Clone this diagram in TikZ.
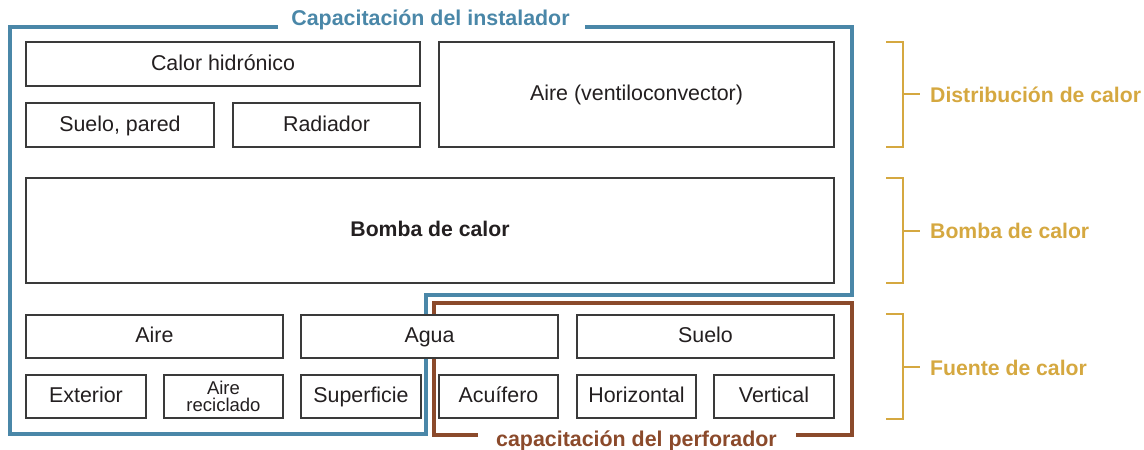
\documentclass[tikz,border=0pt]{standalone}
\usepackage{fontspec}
\setmainfont{Liberation Sans}
\definecolor{frameblue}{HTML}{4A87A8}
\definecolor{framebrown}{HTML}{8B4A2B}
\definecolor{gold}{HTML}{D5A840}
\definecolor{boxgray}{HTML}{3A3A3A}
\definecolor{txt}{HTML}{231F20}
\begin{document}
\begin{tikzpicture}[x=1pt,y=-1pt,
  box/.style={draw=boxgray, line width=1.3pt, fill=white, inner sep=0pt, text=txt,
    font=\fontsize{21.4}{23}\selectfont, minimum height=44pt, text height=15.4pt, text depth=3.1pt},
  bluef/.style={draw=frameblue, line width=3.8pt},
  brownf/.style={draw=framebrown, line width=3.8pt},
  bracket/.style={draw=gold, line width=1.4pt},
  glabel/.style={text=gold, font=\fontsize{21.2}{23}\bfseries\selectfont, anchor=west, inner sep=0pt}]
\useasboundingbox (0,0) rectangle (1144,450);
% frames
\draw[bluef, line join=miter] (278,27) -- (10,27) -- (10,434) -- (426,434) -- (426,295) -- (852,295) -- (852,27) -- (585,27);
\node[text=frameblue, font=\fontsize{21.4}{23}\bfseries\selectfont, inner sep=0pt] (tinst) at (430.5,20) {Capacitación del instalador};
\draw[brownf, line join=miter] (478,435) -- (434,435) -- (434,303) -- (852,303) -- (852,435) -- (796,435);
\node[text=framebrown, font=\fontsize{21.4}{23}\bfseries\selectfont, inner sep=0pt] (tperf) at (636.5,441) {capacitación del perforador};
% boxes
\node[box, minimum width=394pt] (hid) at (223,64) {Calor hidrónico};
\node[box, minimum width=188pt] (suelop) at (120,125) {Suelo, pared};
\node[box, minimum width=187pt] (rad) at (326.5,125) {Radiador};
\node[box, minimum width=395pt, minimum height=105pt] (aire) at (636.5,94.5) {Aire (ventiloconvector)};
\node[box, minimum width=808pt, minimum height=105pt, font=\fontsize{21.2}{23}\bfseries\selectfont] (bomba) at (430,230.5) {Bomba de calor};
\node[box, minimum width=257pt, minimum height=43pt] (faire) at (154.5,336.5) {Aire};
\node[box, minimum width=257pt, minimum height=43pt] (fagua) at (429.5,336.5) {Agua};
\node[box, minimum width=257pt, minimum height=43pt] (fsuelo) at (705.5,336.5) {Suelo};
\node[box, minimum width=120pt, minimum height=43pt] (ext) at (86,396.5) {Exterior};
\node[box, minimum width=119pt, minimum height=43pt, align=center, text height=, text depth=, font=\fontsize{18.5}{17.5}\selectfont] (rec) at (223.5,396.5) {Aire\\reciclado};
\node[box, minimum width=120pt, minimum height=43pt] (sup) at (361,396.5) {Superficie};
\node[box, minimum width=119pt, minimum height=43pt] (acu) at (498.5,396.5) {Acuífero};
\node[box, minimum width=119pt, minimum height=43pt] (hor) at (636.5,396.5) {Horizontal};
\node[box, minimum width=120pt, minimum height=43pt] (ver) at (774,396.5) {Vertical};
% brackets
\draw[bracket] (886,42) -- (903,42) -- (903,147) -- (886,147);
\draw[bracket] (903,94) -- (920,94);
\node[glabel] (ldist) at (930,95) {Distribución de calor};
\draw[bracket] (886,178) -- (903,178) -- (903,283) -- (886,283);
\draw[bracket] (903,231) -- (920,231);
\node[glabel] (lbomba) at (930,231) {Bomba de calor};
\draw[bracket] (886,314) -- (903,314) -- (903,419) -- (886,419);
\draw[bracket] (903,367) -- (920,367);
\node[glabel] (lfuente) at (930,368) {Fuente de calor};
\end{tikzpicture}
\end{document}
